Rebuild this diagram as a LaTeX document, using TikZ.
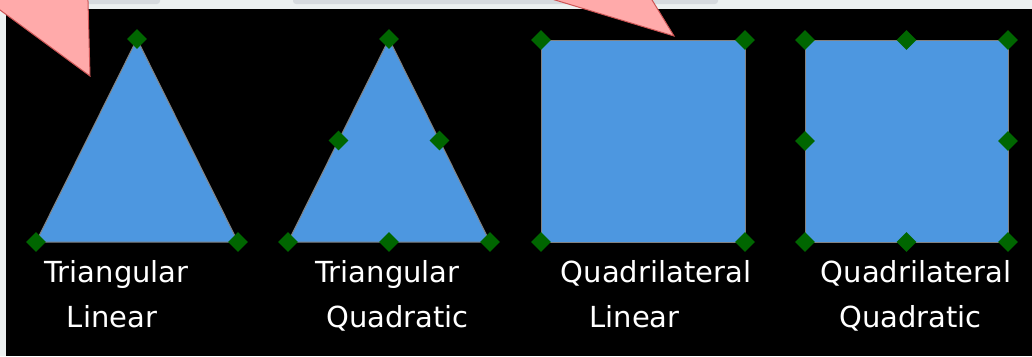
\documentclass[tikz,border=0pt]{standalone}
\usepackage{fontspec}
\setmainfont{DejaVu Sans}
\usetikzlibrary{shapes.geometric,calc}
\definecolor{panel}{RGB}{236,240,240}
\definecolor{shadowgrey}{RGB}{214,218,222}
\definecolor{elemblue}{RGB}{77,151,224}
\definecolor{edgegrey}{RGB}{130,130,130}
\definecolor{nodegreen}{RGB}{0,102,0}
\definecolor{pinkfill}{RGB}{255,170,170}
\definecolor{pinkedge}{RGB}{205,85,85}
\begin{document}
\begin{tikzpicture}[x=1pt,y=-1pt,
  elem/.style={fill=elemblue, draw=edgegrey, line width=1pt, line join=miter},
  vtx/.style={diamond, fill=nodegreen, inner sep=0pt, minimum width=20pt, minimum height=20pt},
  lbl/.style={anchor=base, inner sep=0pt, text=white, font=\fontsize{29}{35}\selectfont},
  pointer/.style={fill=pinkfill, draw=pinkedge, line width=1pt, line join=miter}]
\useasboundingbox (0,0) rectangle (1032,356);
% window background and dark canvas
\fill[panel] (0,0) rectangle (1032,356);
\fill[black] (6,9) rectangle (1032,356);
% shadows of the toolbar buttons above
\fill[shadowgrey, rounded corners=3pt] (86,-10) rectangle (160,4);
\fill[shadowgrey, rounded corners=3pt] (293,-10) rectangle (718,4);

% ---- triangular linear element
\coordinate (a1) at (137,39);
\coordinate (a2) at (36,242);
\coordinate (a3) at (238,242);
\draw[elem] (a1) -- (a2) -- (a3) -- cycle;
\foreach \v in {a1,a2,a3} \node[vtx] (n\v) at (\v) {};

% ---- triangular quadratic element
\coordinate (b1) at (389,39);
\coordinate (b2) at (288,242);
\coordinate (b3) at (490,242);
\draw[elem] (b1) -- (b2) -- (b3) -- cycle;
\foreach \v in {b1,b2,b3} \node[vtx] (n\v) at (\v) {};
\node[vtx] (nb12) at ($(b1)!0.5!(b2)$) {};
\node[vtx] (nb23) at ($(b2)!0.5!(b3)$) {};
\node[vtx] (nb31) at ($(b3)!0.5!(b1)$) {};

% ---- quadrilateral linear element
\coordinate (c1) at (541,40);
\coordinate (c2) at (745,40);
\coordinate (c3) at (745,242);
\coordinate (c4) at (541,242);
\draw[elem] (c1) -- (c2) -- (c3) -- (c4) -- cycle;
\foreach \v in {c1,c2,c3,c4} \node[vtx] (n\v) at (\v) {};

% ---- quadrilateral quadratic element
\coordinate (d1) at (805,40);
\coordinate (d2) at (1008,40);
\coordinate (d3) at (1008,242);
\coordinate (d4) at (805,242);
\draw[elem] (d1) -- (d2) -- (d3) -- (d4) -- cycle;
\foreach \v in {d1,d2,d3,d4} \node[vtx] (n\v) at (\v) {};
\node[vtx] (nd12) at ($(d1)!0.5!(d2)$) {};
\node[vtx] (nd23) at ($(d2)!0.5!(d3)$) {};
\node[vtx] (nd34) at ($(d3)!0.5!(d4)$) {};
\node[vtx] (nd41) at ($(d4)!0.5!(d1)$) {};

% ---- captions
\node[lbl] (ta1) at (116.5,282) {Triangular};
\node[lbl] (ta2) at (112,327) {Linear};
\node[lbl] (tb1) at (387.5,282) {Triangular};
\node[lbl] (tb2) at (397.5,327) {Quadratic};
\node[lbl] (tc1) at (656,282) {Quadrilateral};
\node[lbl] (tc2) at (634.5,327) {Linear};
\node[lbl] (td1) at (916,282) {Quadrilateral};
\node[lbl] (td2) at (910.5,327) {Quadratic};

% ---- pink pointers
\draw[pointer] (-6,5.6) -- (90,76) -- (87.8,-6) -- (-6,-6) -- cycle;
\draw[pointer] (538.5,-5) -- (674,36) -- (649,-5) -- cycle;
\end{tikzpicture}
\end{document}
